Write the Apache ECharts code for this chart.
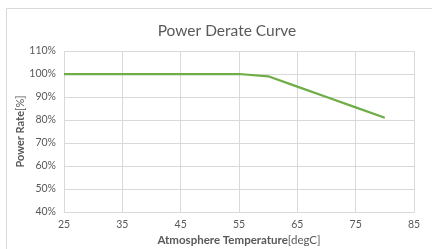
<!DOCTYPE html>
<html><head><meta charset="utf-8">
<script src="https://cdn.jsdelivr.net/npm/echarts@6/dist/echarts.min.js"></script>
<style>html,body{margin:0;padding:0;background:#fff}#c{width:432px;height:249px}</style>
</head><body><div id="c"></div>
<script>
const temps = [25, 55, 60, 65, 70, 75, 80];
const rates = [100, 100, 99, 94.5, 90, 85.5, 81];
const xTicks = [25, 35, 45, 55, 65, 75, 85];
const yTicks = [40, 50, 60, 70, 80, 90, 100, 110];
const titleText = 'Power Derate Curve';
const xName = ['Atmosphere Temperature', '[degC]'];
const yName = ['Power Rate', '[%]'];

const FONT = 'Lato, "Liberation Sans", sans-serif';
const chart = echarts.init(document.getElementById('c'), null, {renderer: 'canvas'});
chart.setOption({
  animation: false,
  backgroundColor: '#fff',
  graphic: [{type: 'rect', shape: {x: 6.5, y: 8.5, width: 430, height: 250}, style: {fill: 'none', stroke: '#d9d9d9', lineWidth: 1}, silent: true}],
  title: {text: titleText, left: 222, top: 18, textAlign: 'center',
    textStyle: {fontFamily: FONT, fontSize: 15.5, fontWeight: 'normal', color: '#595959'}},
  grid: {left: 64, right: 18, top: 51, bottom: 37, containLabel: false, outerBoundsMode: 'none'},
  xAxis: {type: 'value', min: xTicks[0], max: xTicks[xTicks.length - 1], interval: 10,
    axisLine: {show: true, lineStyle: {color: '#d9d9d9'}}, axisTick: {show: false},
    splitLine: {show: true, lineStyle: {color: '#d9d9d9', width: 1}},
    axisLabel: {fontFamily: FONT, fontSize: 10.5, color: '#595959', margin: 7},
    name: '{b|' + xName[0] + '}{r|' + xName[1] + '}', nameLocation: 'middle', nameGap: 22,
    nameMoveOverlap: false,
    nameTextStyle: {rich: {b: {fontFamily: FONT, fontSize: 11.5, fontWeight: 'bold', color: '#595959'}, r: {fontFamily: FONT, fontSize: 11.5, color: '#595959'}}}},
  yAxis: {type: 'value', min: yTicks[0], max: yTicks[yTicks.length - 1], interval: 10,
    axisLine: {show: false}, axisTick: {show: false},
    splitLine: {show: true, lineStyle: {color: '#d9d9d9', width: 1}},
    axisLabel: {fontFamily: FONT, fontSize: 10.5, color: '#595959', margin: 8, formatter: v => v + '%'},
    name: '{b|' + yName[0] + '}{r|' + yName[1] + '}', nameLocation: 'middle', nameGap: 38, nameRotate: 90,
    nameMoveOverlap: false,
    nameTextStyle: {rich: {b: {fontFamily: FONT, fontSize: 11, fontWeight: 'bold', color: '#595959'}, r: {fontFamily: FONT, fontSize: 11, color: '#595959'}}}},
  series: [{type: 'line', data: temps.map((t, i) => [t, rates[i]]), showSymbol: false,
    lineStyle: {color: '#70ad47', width: 2.25}, itemStyle: {color: '#70ad47'}}]
});
</script></body></html>
